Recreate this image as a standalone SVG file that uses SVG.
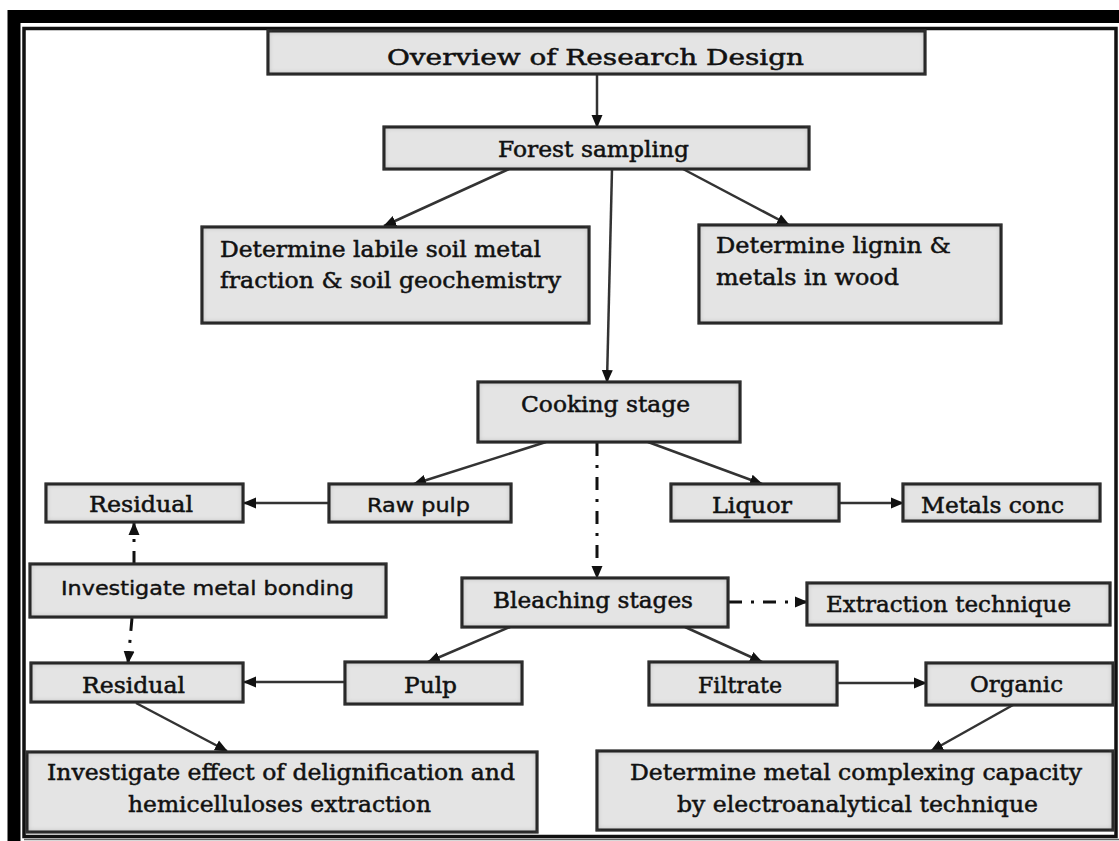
<svg xmlns="http://www.w3.org/2000/svg" width="1119" height="841" viewBox="0 0 1119 841">
<style>
.box{fill:#e4e4e4;stroke:#222;stroke-width:3;filter:url(#inset)}
.t{font-family:"DejaVu Serif","Liberation Serif",serif;font-size:22px;fill:#111;stroke:#111;stroke-width:0.5}
.s{font-family:"DejaVu Sans","Liberation Sans",sans-serif;font-size:19px;fill:#111;stroke:#111;stroke-width:0.4}
.c{fill:none;stroke:#333;stroke-width:2.5}
.dd{fill:none;stroke:#111;stroke-width:3;stroke-dasharray:13 9 3 9}
</style>
<defs>
<filter id="inset" x="-5%" y="-15%" width="110%" height="130%">
<feFlood flood-color="#3a3a3a"/>
<feComposite in2="SourceAlpha" operator="out"/>
<feGaussianBlur stdDeviation="3"/>
<feComposite in2="SourceAlpha" operator="in" result="sh"/>
<feMerge><feMergeNode in="SourceGraphic"/><feMergeNode in="sh"/></feMerge>
</filter>
<marker id="ah" markerUnits="userSpaceOnUse" markerWidth="13" markerHeight="13" refX="12" refY="6.5" orient="auto" viewBox="0 0 13 13">
<path d="M0,1 L13,6.5 L0,12 z" fill="#111"/>
</marker>
</defs>
<rect width="1119" height="841" fill="#fff"/>
<g id="frame">
<rect x="14" y="16.5" width="1130" height="840" fill="none" stroke="#000" stroke-width="13"/>
<rect x="24" y="28.5" width="1092" height="808" fill="none" stroke="#111" stroke-width="3.5"/>
<line x1="24" y1="839.5" x2="1119" y2="839.5" stroke="#666" stroke-width="1.5"/>
</g>
<g id="connectors">
<line class="c" x1="597" y1="74" x2="597" y2="127" marker-end="url(#ah)"/>
<line class="c" x1="509" y1="169" x2="384" y2="226" marker-end="url(#ah)"/>
<line class="c" x1="683" y1="169" x2="789" y2="225" marker-end="url(#ah)"/>
<line class="c" x1="612" y1="169" x2="607" y2="382" marker-end="url(#ah)"/>
<line class="c" x1="546" y1="442" x2="414" y2="484" marker-end="url(#ah)"/>
<line class="c" x1="648" y1="442" x2="762" y2="484" marker-end="url(#ah)"/>
<line class="dd" x1="597" y1="443" x2="597" y2="578" marker-end="url(#ah)"/>
<line class="c" x1="329" y1="503" x2="244" y2="503" marker-end="url(#ah)"/>
<line class="c" x1="839" y1="503" x2="903" y2="503" marker-end="url(#ah)"/>
<line class="dd" x1="134" y1="564" x2="134" y2="523" marker-end="url(#ah)"/>
<line class="dd" x1="132" y1="618" x2="128" y2="663" marker-end="url(#ah)"/>
<line class="dd" x1="729" y1="602" x2="807" y2="602" marker-end="url(#ah)"/>
<line class="c" x1="510" y1="627" x2="428" y2="662" marker-end="url(#ah)"/>
<line class="c" x1="685" y1="627" x2="762" y2="662" marker-end="url(#ah)"/>
<line class="c" x1="345" y1="682" x2="244" y2="682" marker-end="url(#ah)"/>
<line class="c" x1="837" y1="683" x2="926" y2="683" marker-end="url(#ah)"/>
<line class="c" x1="136" y1="703" x2="227" y2="751" marker-end="url(#ah)"/>
<line class="c" x1="1013" y1="705" x2="931" y2="751" marker-end="url(#ah)"/>
</g>
<g id="title"><rect class="box" x="268" y="31" width="657" height="43"/><text class="t" x="387" y="65" font-size="25" textLength="417" lengthAdjust="spacingAndGlyphs">Overview of Research Design</text></g>
<g id="forest"><rect class="box" x="384" y="127" width="425" height="42"/><text class="t" x="498" y="157" textLength="191" lengthAdjust="spacingAndGlyphs">Forest sampling</text></g>
<g id="soil"><rect class="box" x="202" y="227" width="387" height="96"/><text class="t" x="220" y="257" textLength="321" lengthAdjust="spacingAndGlyphs">Determine labile soil metal</text><text class="t" x="220" y="288" textLength="341" lengthAdjust="spacingAndGlyphs">fraction &amp; soil geochemistry</text></g>
<g id="lignin"><rect class="box" x="699" y="225" width="302" height="98"/><text class="t" x="716" y="253" textLength="235" lengthAdjust="spacingAndGlyphs">Determine lignin &amp;</text><text class="t" x="716" y="285" textLength="183" lengthAdjust="spacingAndGlyphs">metals in wood</text></g>
<g id="cooking"><rect class="box" x="478" y="382" width="262" height="60"/><text class="t" x="521" y="412" textLength="169" lengthAdjust="spacingAndGlyphs">Cooking stage</text></g>
<g id="residual1"><rect class="box" x="46" y="484" width="197" height="38"/><text class="t" x="89" y="512" textLength="104" lengthAdjust="spacingAndGlyphs">Residual</text></g>
<g id="rawpulp"><rect class="box" x="329" y="484" width="182" height="38"/><text class="s" x="367" y="512" textLength="103" lengthAdjust="spacingAndGlyphs">Raw pulp</text></g>
<g id="liquor"><rect class="box" x="671" y="484" width="168" height="37"/><text class="t" x="712" y="513" textLength="80" lengthAdjust="spacingAndGlyphs">Liquor</text></g>
<g id="metals"><rect class="box" x="903" y="484" width="197" height="37"/><text class="t" x="921" y="513" textLength="143" lengthAdjust="spacingAndGlyphs">Metals conc</text></g>
<g id="bonding"><rect class="box" x="30" y="564" width="356" height="53"/><text class="s" x="61" y="595" textLength="293" lengthAdjust="spacingAndGlyphs">Investigate metal bonding</text></g>
<g id="bleaching"><rect class="box" x="462" y="578" width="266" height="49"/><text class="t" x="493" y="608" textLength="200" lengthAdjust="spacingAndGlyphs">Bleaching stages</text></g>
<g id="extraction"><rect class="box" x="807" y="583" width="303" height="42"/><text class="t" x="826" y="612" textLength="245" lengthAdjust="spacingAndGlyphs">Extraction technique</text></g>
<g id="residual2"><rect class="box" x="31" y="663" width="212" height="39"/><text class="t" x="82" y="693" textLength="103" lengthAdjust="spacingAndGlyphs">Residual</text></g>
<g id="pulp"><rect class="box" x="345" y="662" width="177" height="42"/><text class="t" x="404" y="693" textLength="53" lengthAdjust="spacingAndGlyphs">Pulp</text></g>
<g id="filtrate"><rect class="box" x="649" y="662" width="188" height="43"/><text class="t" x="698" y="693" textLength="84" lengthAdjust="spacingAndGlyphs">Filtrate</text></g>
<g id="organic"><rect class="box" x="926" y="663" width="187" height="42"/><text class="t" x="970" y="692" textLength="93" lengthAdjust="spacingAndGlyphs">Organic</text></g>
<g id="delignification"><rect class="box" x="27" y="752" width="510" height="80"/><text class="t" x="47" y="780" textLength="468" lengthAdjust="spacingAndGlyphs">Investigate effect of delignification and</text><text class="t" x="128" y="812" textLength="303" lengthAdjust="spacingAndGlyphs">hemicelluloses extraction</text></g>
<g id="complexing"><rect class="box" x="597" y="751" width="516" height="79"/><text class="t" x="630" y="780" textLength="452" lengthAdjust="spacingAndGlyphs">Determine metal complexing capacity</text><text class="t" x="677" y="812" textLength="361" lengthAdjust="spacingAndGlyphs">by electroanalytical technique</text></g>
</svg>
